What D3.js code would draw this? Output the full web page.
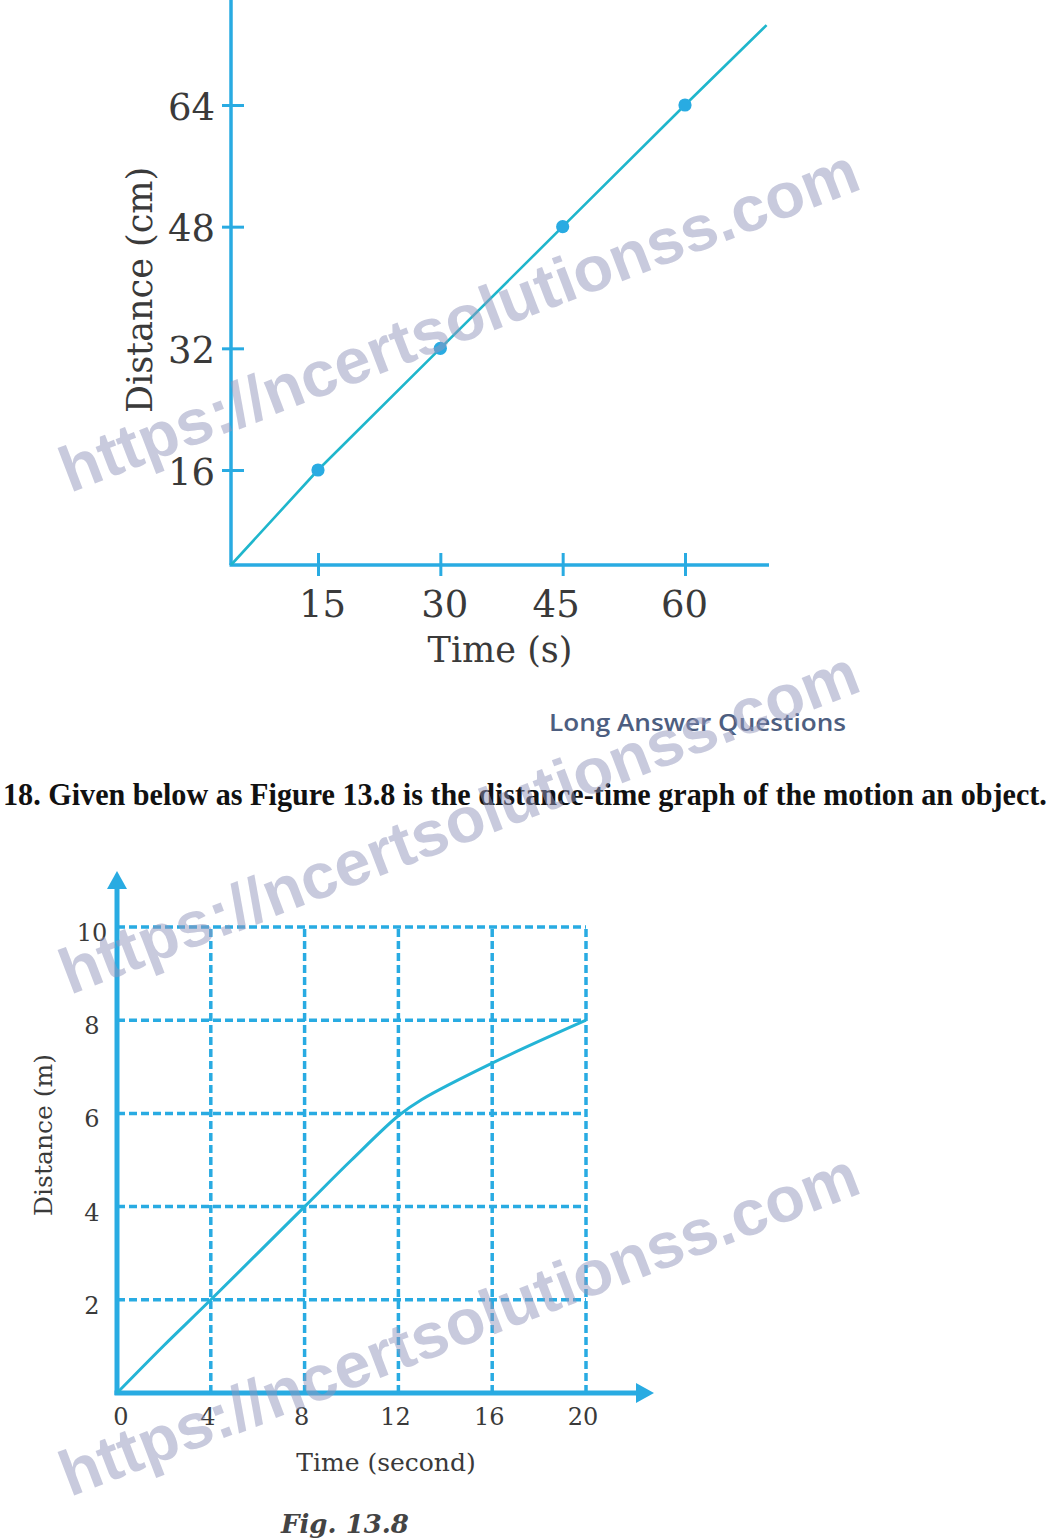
<!DOCTYPE html>
<html><head><meta charset="utf-8">
<script src="https://cdn.jsdelivr.net/npm/d3@7"></script>
<style>html,body{margin:0;padding:0;background:#fff;} svg{display:block;}</style>
</head><body>
<svg id="c" width="1054" height="1540"></svg>
<script>
// ---------- Chart 1 data ----------
const time1 = [15, 30, 45, 60];
const dist1 = [16, 32, 48, 64];
const lineTime1 = [0, 15, 30, 45, 60, 70];
const lineDist1 = [0, 16, 32, 48, 64, 74.5];
const xTicks1 = [15, 30, 45, 60];
const yTicks1 = [16, 32, 48, 64];
const xAxisEnd1 = 70.3;
const yAxisEnd1 = 78;

// ---------- Chart 2 data ----------
const time2 = [0, 2, 4, 8, 10, 12, 13, 16, 20];
const dist2 = [0, 1.02, 2, 4, 5, 5.95, 6.3, 7.08, 8];
const xTicks2 = [0, 4, 8, 12, 16, 20];
const yTicks2 = [2, 4, 6, 8, 10];
const xArrowEnd2 = 22.9;
const yArrowEnd2 = 11.2;

// ---------- Text ----------
const heading = "Long Answer Questions";
const question = "18. Given below as Figure 13.8 is the distance-time graph of the motion an object.";
const figCaption = "Fig. 13.8";
const watermark = "https://ncertsolutionss.com";
const watermarkRows = [493, 995, 1497];

const BLUE = "#29abe2";
const TEAL = "#1fb6cc";
const TXT = "#3a3a3a";
const SERIF = "'DejaVu Serif', serif";

const svg = d3.select("#c");

// ================= Chart 1 =================
const x1 = d3.scaleLinear().domain([0, 15, 60]).range([231, 318, 685]);
const y1 = d3.scaleLinear().domain([0, 16, 64]).range([565, 470, 105]);
const g1 = svg.append("g");

g1.append("line").attr("x1", x1(0)).attr("x2", x1(0)).attr("y1", y1(0)).attr("y2", y1(yAxisEnd1))
  .attr("stroke", BLUE).attr("stroke-width", 3.5);
g1.append("line").attr("x1", x1(0) - 1.5).attr("x2", x1(xAxisEnd1)).attr("y1", y1(0)).attr("y2", y1(0))
  .attr("stroke", BLUE).attr("stroke-width", 3.5);

const ax1y = g1.append("g").attr("transform", `translate(${x1(0)},0)`)
  .call(d3.axisLeft(y1).tickValues(yTicks1).tickSize(9).tickPadding(7).tickFormat(d3.format("d")));
const ax1x = g1.append("g").attr("transform", `translate(0,${y1(0)})`)
  .call(d3.axisBottom(x1).tickValues(xTicks1).tickSize(11).tickPadding(6).tickFormat(d3.format("d")));
[ax1y, ax1x].forEach(a => {
  a.select(".domain").remove();
  a.selectAll("text").attr("font-family", SERIF).attr("font-size", 37).attr("fill", TXT);
  a.selectAll("line").attr("stroke", BLUE).attr("stroke-width", 3);
});
ax1y.selectAll("line").attr("x1", 13);
ax1y.selectAll("text").attr("dy", "0.38em");
ax1x.selectAll("line").attr("y1", -12);
ax1x.selectAll("text").attr("dy", "0.95em").attr("x", (d, i) => [4, 4, -7, -1][i]);

const pts1 = lineTime1.map((t, i) => [t, lineDist1[i]]);
g1.append("path").datum(pts1)
  .attr("d", d3.line().x(d => x1(d[0])).y(d => y1(d[1])))
  .attr("fill", "none").attr("stroke", TEAL).attr("stroke-width", 2.6);
g1.selectAll("circle.pt").data(time1).join("circle")
  .attr("cx", (d) => x1(d)).attr("cy", (d, i) => y1(dist1[i])).attr("r", 6.6).attr("fill", BLUE);

g1.append("text").attr("x", 500).attr("y", 662).attr("text-anchor", "middle")
  .attr("font-family", SERIF).attr("font-size", 35).attr("fill", TXT).text("Time (s)");
g1.append("text").attr("transform", "translate(152,290) rotate(-90)").attr("text-anchor", "middle")
  .attr("font-family", SERIF).attr("font-size", 35).attr("fill", TXT).text("Distance (cm)");

// ================= Middle text =================
svg.append("text").attr("x", 549).attr("y", 731)
  .attr("font-family", "'Open Sans', sans-serif").attr("font-weight", 600).attr("font-size", 23)
  .attr("fill", "#4d5e80").attr("textLength", 297).attr("lengthAdjust", "spacingAndGlyphs").text(heading);
const q = svg.append("text").attr("x", 0).attr("y", 0)
  .attr("font-family", "'Liberation Serif', serif").attr("font-weight", "bold").attr("font-size", 31)
  .attr("fill", "#111").text(question);
const qw = q.node().getComputedTextLength();
q.attr("transform", `translate(3,805) scale(${1044 / qw},1)`);

// ================= Chart 2 =================
const x2 = d3.scaleLinear().domain([0, 20]).range([117, 586]);
const y2 = d3.scaleLinear().domain([0, 10]).range([1393, 927]);
const g2 = svg.append("g");

g2.selectAll("line.h").data(yTicks2).join("line")
  .attr("x1", x2(0)).attr("x2", x2(20)).attr("y1", d => y2(d)).attr("y2", d => y2(d))
  .attr("stroke", BLUE).attr("stroke-width", 3.5).attr("stroke-dasharray", "8,4");
g2.selectAll("line.v").data(xTicks2.filter(d => d > 0)).join("line")
  .attr("x1", d => x2(d)).attr("x2", d => x2(d)).attr("y1", y2(0)).attr("y2", y2(10))
  .attr("stroke", BLUE).attr("stroke-width", 3.5).attr("stroke-dasharray", "8,4");

g2.append("line").attr("x1", x2(0)).attr("x2", x2(0)).attr("y1", y2(0) + 2).attr("y2", y2(yArrowEnd2) + 14)
  .attr("stroke", BLUE).attr("stroke-width", 5);
g2.append("line").attr("x1", x2(0) - 2.5).attr("x2", x2(xArrowEnd2) - 14).attr("y1", y2(0)).attr("y2", y2(0))
  .attr("stroke", BLUE).attr("stroke-width", 5);
const ty = y2(yArrowEnd2), tx = x2(0);
g2.append("path").attr("d", `M${tx},${ty} L${tx - 10},${ty + 18} L${tx + 10},${ty + 18} Z`).attr("fill", BLUE);
const rx = x2(xArrowEnd2), ry = y2(0);
g2.append("path").attr("d", `M${rx},${ry} L${rx - 18},${ry - 10} L${rx - 18},${ry + 10} Z`).attr("fill", BLUE);

g2.selectAll("text.xt").data(xTicks2).join("text")
  .attr("x", (d, i) => x2(d) + (i === 0 ? 4 : -3)).attr("y", y2(0) + 32).attr("text-anchor", "middle")
  .attr("font-family", SERIF).attr("font-size", 24).attr("fill", TXT).text(d => d);
g2.selectAll("text.yt").data(yTicks2).join("text")
  .attr("x", 92).attr("y", d => y2(d) + 14).attr("text-anchor", "middle")
  .attr("font-family", SERIF).attr("font-size", 24).attr("fill", TXT).text(d => d);

const pts2 = time2.map((t, i) => [t, dist2[i]]);
g2.append("path").datum(pts2)
  .attr("d", d3.line().curve(d3.curveCatmullRom.alpha(0.5)).x(d => x2(d[0])).y(d => y2(d[1])))
  .attr("fill", "none").attr("stroke", "#24b4d6").attr("stroke-width", 3);

g2.append("text").attr("x", 386).attr("y", 1471).attr("text-anchor", "middle")
  .attr("font-family", SERIF).attr("font-size", 25).attr("fill", TXT).text("Time (second)");
g2.append("text").attr("transform", "translate(52,1135) rotate(-90)").attr("text-anchor", "middle")
  .attr("font-family", SERIF).attr("font-size", 25).attr("fill", TXT).text("Distance (m)");
g2.append("text").attr("x", 345).attr("y", 1533).attr("text-anchor", "middle")
  .attr("font-family", SERIF).attr("font-weight", "bold").attr("font-style", "italic")
  .attr("font-size", 26).attr("fill", "#444").text(figCaption);

// ================= Watermarks =================
svg.selectAll("text.wm").data(watermarkRows).join("text")
  .attr("transform", d => `translate(70,${d}) rotate(-21)`)
  .attr("font-family", "'Liberation Sans', Arial, sans-serif").attr("font-weight", "bold")
  .attr("font-size", 64).attr("fill", "#9196bb").attr("fill-opacity", 0.5)
  .attr("textLength", 850).attr("lengthAdjust", "spacingAndGlyphs").text(watermark);
</script>
</body></html>
